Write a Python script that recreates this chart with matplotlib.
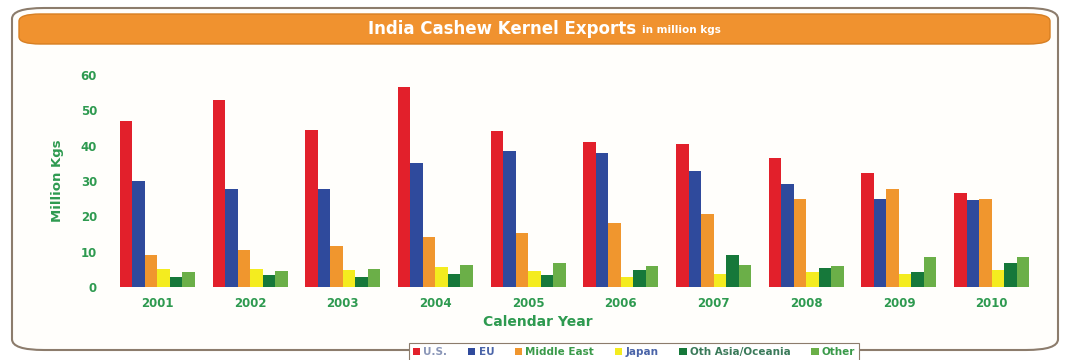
#!/usr/bin/env python3
"""India cashew kernel exports by destination, grouped bar chart."""

import matplotlib.pyplot as plt
from matplotlib.patches import FancyBboxPatch
import numpy as np

# Data (million kgs)
years = ["2001", "2002", "2003", "2004", "2005", "2006", "2007", "2008", "2009", "2010"]
series_names = ["U.S.", "EU", "Middle East", "Japan", "Oth Asia/Oceania", "Other"]
us = [47.1, 52.8, 44.5, 56.7, 44.2, 41.0, 40.5, 36.5, 32.2, 26.5]
eu = [30.1, 27.8, 27.8, 35.0, 38.5, 37.9, 32.7, 29.2, 25.0, 24.6]
middle_east = [9.1, 10.5, 11.7, 14.1, 15.4, 18.0, 20.7, 24.8, 27.8, 25.0]
japan = [5.0, 5.0, 4.8, 5.6, 4.6, 2.7, 3.7, 4.2, 3.7, 4.8]
oth_asia = [2.7, 3.4, 2.7, 3.6, 3.4, 4.8, 9.1, 5.5, 4.3, 6.7]
other = [4.2, 4.5, 5.0, 6.3, 6.7, 5.9, 6.2, 5.9, 8.4, 8.4]

COLORS = ["#E2202B", "#2F4A9C", "#F0962E", "#F4EC1F", "#16783A", "#6BAF48"]
LEGEND_TXT = ["#8A96B8", "#4A64A8", "#3A9A4A", "#4A64A8", "#3A7A5A", "#3A9A4A"]
GREEN_TXT = "#2E9A50"
ORANGE = "#F0922F"

W, H = 1070, 360
fig = plt.figure(figsize=(W / 100, H / 100), dpi=100)
fig.patch.set_facecolor("white")

# Outer rounded frame
frame = FancyBboxPatch((12 / W, 10 / H), 1046 / W, 342 / H,
                       boxstyle="round,pad=0,rounding_size=0.03",
                       transform=fig.transFigure, facecolor="#FFFEFB",
                       edgecolor="#8C7C6C", linewidth=1.5, zorder=-2)
fig.patches.append(frame)

# Orange title banner
banner = FancyBboxPatch((19 / W, 316 / H), 1031 / W, 30 / H,
                        boxstyle="round,pad=0,rounding_size=0.02",
                        transform=fig.transFigure, facecolor=ORANGE,
                        edgecolor="#D77F22", linewidth=1.0, zorder=-1)
fig.patches.append(banner)
fig.text(636 / W, 331 / H, "India Cashew Kernel Exports", ha="right", va="center",
         fontsize=12, fontweight="bold", color="white")
fig.text(642 / W, 330 / H, "in million kgs", ha="left", va="center",
         fontsize=7.5, fontweight="bold", color="white")

# Plot area
ax = fig.add_axes([111 / W, (H - 287) / H, (1038 - 111) / W, (287 - 75) / H])
ax.set_zorder(2)
ax.set_facecolor("none")

all_series = [us, eu, middle_east, japan, oth_asia, other]
x = np.arange(len(years))
bw = 0.135
for i, (name, vals, col) in enumerate(zip(series_names, all_series, COLORS)):
    ax.bar(x + (i - 2.5) * bw, vals, bw, color=col, label=name, zorder=2)

ax.set_xlim(-0.5, 9.5)
ax.set_ylim(0, 60)
ax.set_yticks(range(0, 61, 10))
ax.set_xticks(x)
ax.set_xticklabels(years)
for s in ax.spines.values():
    s.set_visible(False)
ax.tick_params(length=0, labelsize=8.5, labelcolor=GREEN_TXT)
ax.tick_params(axis="x", pad=7)
ax.tick_params(axis="y", pad=10)
for lab in ax.get_xticklabels() + ax.get_yticklabels():
    lab.set_fontweight("bold")

ax.set_ylabel("Million Kgs", fontsize=9.5, fontweight="bold", color=GREEN_TXT, labelpad=12)
fig.text(538 / W, (H - 322) / H, "Calendar Year", ha="center", va="center",
         fontsize=10, fontweight="bold", color=GREEN_TXT)

leg = fig.legend(loc="center", bbox_to_anchor=(634 / W, (H - 352) / H), ncol=6,
                 fontsize=7.5, frameon=True, fancybox=False, handlelength=0.7,
                 handleheight=0.7, handletextpad=0.3, columnspacing=2.0,
                 borderpad=0.4, edgecolor="#8C7C6C", framealpha=1)
leg.set_zorder(3)
leg.get_frame().set_linewidth(0.8)
for t, c in zip(leg.get_texts(), LEGEND_TXT):
    t.set_color(c)
    t.set_fontweight("bold")

fig.savefig("out.png", dpi=100, facecolor="white")
